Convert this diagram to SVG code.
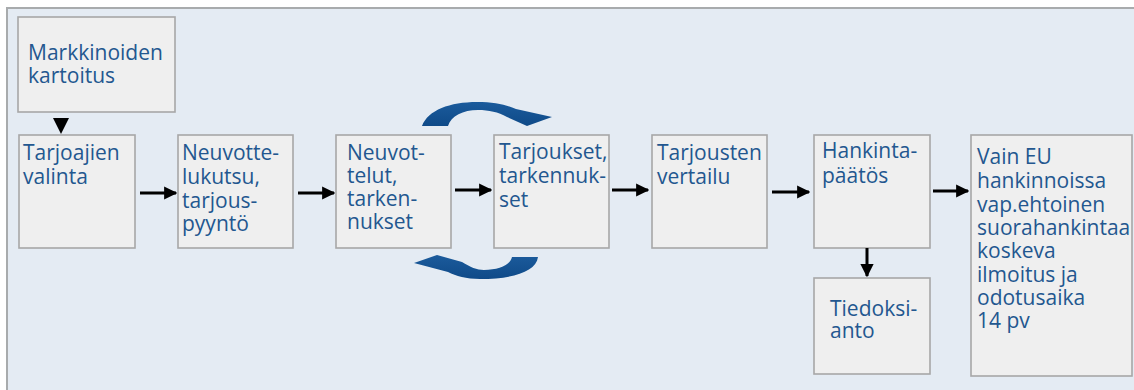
<svg xmlns="http://www.w3.org/2000/svg" width="1134" height="390" viewBox="0 0 1134 390">
<defs>
<style>
.bg{fill:#e4ebf3}
.bd{fill:none;stroke:#a8abad;stroke-width:2}
.box{fill:#efefef;stroke:#a7a7a7;stroke-width:1.6}
.t{font-family:"Open Sans","Noto Sans",sans-serif;font-size:21px;fill:#23578f}
.ln{stroke:#000;stroke-width:3;fill:none}
.hd{fill:#000}
.cv{fill:url(#g)}
</style>
<linearGradient id="g" x1="0" y1="0" x2="0" y2="1">
<stop offset="0" stop-color="#1b5b9c"/>
<stop offset="1" stop-color="#0f4a88"/>
</linearGradient>
<marker id="ah" viewBox="0 0 10 10" refX="9" refY="5" markerWidth="4.4" markerHeight="4.8" orient="auto" markerUnits="strokeWidth">
<path d="M0,0 L10,5 L0,10 Z" fill="#000"/>
</marker>
</defs>
<rect class="bg" x="7" y="8" width="1127" height="382"/>
<path class="bd" d="M7,391 L7,8 L1136,8"/>
<g id="n-markkinoiden"><rect class="box" x="18" y="17" width="157" height="95"/><text class="t" x="28" y="60">Markkinoiden</text><text class="t" x="28" y="83">kartoitus</text></g>
<g id="n-tarjoajien"><rect class="box" x="19" y="135" width="116" height="113"/><text class="t" x="23" y="160">Tarjoajien</text><text class="t" x="23" y="184">valinta</text></g>
<g id="n-neuvottelukutsu"><rect class="box" x="178" y="135" width="115" height="113"/><text class="t" x="182" y="160">Neuvotte-</text><text class="t" x="182" y="184">lukutsu,</text><text class="t" x="182" y="208">tarjous-</text><text class="t" x="182" y="231">pyyntö</text></g>
<g id="n-neuvottelut"><rect class="box" x="336" y="135" width="115" height="113"/><text class="t" x="347" y="160">Neuvot-</text><text class="t" x="347" y="183">telut,</text><text class="t" x="347" y="206">tarken-</text><text class="t" x="347" y="229">nukset</text></g>
<g id="n-tarjoukset"><rect class="box" x="494" y="135" width="115" height="113"/><text class="t" x="499" y="159">Tarjoukset,</text><text class="t" x="499" y="183">tarkennuk-</text><text class="t" x="499" y="207">set</text></g>
<g id="n-vertailu"><rect class="box" x="652" y="135" width="115" height="113"/><text class="t" x="657" y="160">Tarjousten</text><text class="t" x="657" y="184">vertailu</text></g>
<g id="n-hankinta"><rect class="box" x="814" y="135" width="116" height="113"/><text class="t" x="822" y="158">Hankinta-</text><text class="t" x="822" y="183">päätös</text></g>
<g id="n-tiedoksianto"><rect class="box" x="814" y="278" width="116" height="96"/><text class="t" x="830" y="316">Tiedoksi-</text><text class="t" x="830" y="338">anto</text></g>
<g id="n-vaineu"><rect class="box" x="971" y="135" width="161" height="241"/>
<text class="t" x="977" y="164">Vain EU</text><text class="t" x="977" y="188">hankinnoissa</text><text class="t" x="977" y="212">vap.ehtoinen</text><text class="t" x="977" y="235">suorahankintaa</text><text class="t" x="977" y="258">koskeva</text><text class="t" x="977" y="282">ilmoitus ja</text><text class="t" x="977" y="305">odotusaika</text><text class="t" x="977" y="328">14 pv</text></g>
<g id="connectors">
<path class="hd" d="M53,118 L69,118 L61,134 Z"/>
<line class="ln" x1="140" y1="193" x2="176" y2="193" marker-end="url(#ah)"/>
<line class="ln" x1="298" y1="193" x2="334" y2="193" marker-end="url(#ah)"/>
<line class="ln" x1="455" y1="190" x2="491" y2="190" marker-end="url(#ah)"/>
<line class="ln" x1="612" y1="190" x2="648" y2="190" marker-end="url(#ah)"/>
<line class="ln" x1="772" y1="192" x2="809" y2="192" marker-end="url(#ah)"/>
<line class="ln" x1="933" y1="191" x2="968" y2="191" marker-end="url(#ah)"/>
<line class="ln" x1="867" y1="248" x2="867" y2="276" marker-end="url(#ah)"/>
<path class="cv" d="M422,126 C428,110 450,102 477,102 C495,102 507,105 516,109 L552,117 L527,126 L507,117 C498,112 489,110 478,110 C463,110 451,116 448,126 Z"/>
<path class="cv" d="M538,257 C536,272 512,279 480,279 C466,279 456,276 448,272 L414,263 L437,255 L462,262 C470,267 477,270 484,270 C498,270 510,266 512,257 Z"/>
</g>
</svg>
